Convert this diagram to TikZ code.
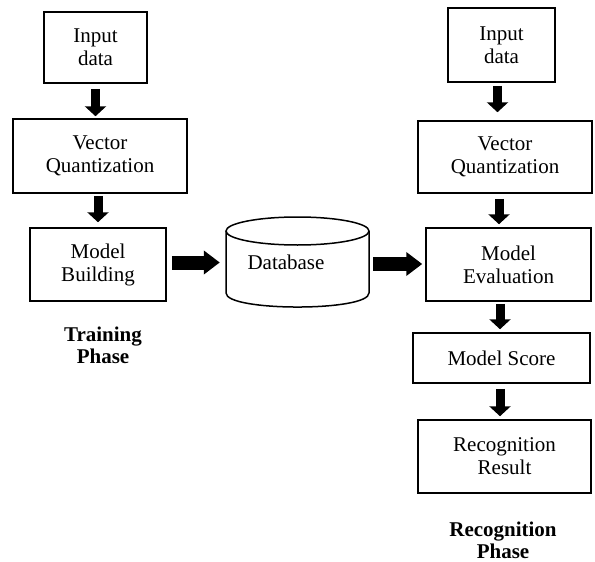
\documentclass[tikz,border=0pt]{standalone}
\usepackage{fontspec}
\setmainfont{Liberation Serif}
\usetikzlibrary{arrows.meta}
\begin{document}
\begin{tikzpicture}[x=1pt,y=-1pt,
  box/.style={draw, line width=1.5pt, inner sep=0pt, align=center,
    font=\fontsize{21}{23}\selectfont},
  vdown/.style={line width=9pt, -{Triangle[width=21pt,length=10pt]}},
  hright/.style={line width=14pt, -{Triangle[width=23pt,length=16pt]}},
  lab/.style={align=center, inner sep=0pt, font=\fontsize{21}{22}\selectfont\bfseries},
  cyl/.style={line width=1.5pt}]
\useasboundingbox (0,0) rectangle (595,562);
% left column
\node[box, minimum width=103pt, minimum height=71pt] (in1) at (95.5,47.5) {Input\\data};
\node[box, minimum width=174pt, minimum height=74pt] (vq1) at (100,156) {Vector\\Quantization};
\node[box, minimum width=136pt, minimum height=73pt] (mb) at (98,264.5) {Model\\Building};
\node[lab] (tp) at (103,345) {Training\\Phase};
% database
\node[minimum width=143pt, minimum height=90pt, inner sep=0pt] (db) at (297.5,262) {};
\draw[cyl] (226,231) -- (226,293) .. controls (226,311.7) and (369,311.7) .. (369,293) -- (369,231);
\draw[cyl] (297.5,231) ellipse [x radius=71.5, y radius=14];
\node[font=\fontsize{21}{23}\selectfont] (dbt) at (286,262) {Database};
% right column
\node[box, minimum width=107pt, minimum height=74pt] (in2) at (501.5,45) {Input\\data};
\node[box, minimum width=174pt, minimum height=72pt] (vq2) at (505,157) {Vector\\Quantization};
\node[box, minimum width=165pt, minimum height=73pt] (me) at (508.5,264.5) {Model\\Evaluation};
\node[box, minimum width=177pt, minimum height=50pt] (ms) at (501.5,358) {Model Score};
\node[box, minimum width=173pt, minimum height=73pt] (rr) at (504.5,456.5) {Recognition\\Result};
\node[lab] (rp) at (503,540.5) {Recognition\\Phase};
% arrows left
\draw[vdown, shorten <=5pt, shorten >=2pt] (in1.south) -- (in1.south |- vq1.north);
\draw[vdown, shorten <=2pt, shorten >=5pt] (mb.north |- vq1.south) -- (mb.north);
\draw[hright, shorten <=5pt, shorten >=6pt] ([yshift=2pt]mb.east) -- ([yshift=2pt]mb.east -| db.west);
\draw[hright, shorten <=4pt, shorten >=3pt] ([yshift=-2pt]db.east) -- ([yshift=-2pt]db.east -| me.west);
% arrows right
\draw[vdown, shorten <=3pt, shorten >=8pt] ([xshift=-4pt]in2.south) -- ([xshift=-4pt]in2.south |- vq2.north);
\draw[vdown, shorten <=5pt, shorten >=3pt] ([xshift=-6pt]vq2.south) -- ([xshift=-6pt]vq2.south |- me.north);
\draw[vdown, shorten <=2pt, shorten >=3pt] ([xshift=-1.5pt]ms.north |- me.south) -- ([xshift=-1.5pt]ms.north);
\draw[vdown, shorten <=5pt, shorten >=3pt] ([xshift=-1.5pt]ms.south) -- ([xshift=-1.5pt]ms.south |- rr.north);
\end{tikzpicture}
\end{document}
